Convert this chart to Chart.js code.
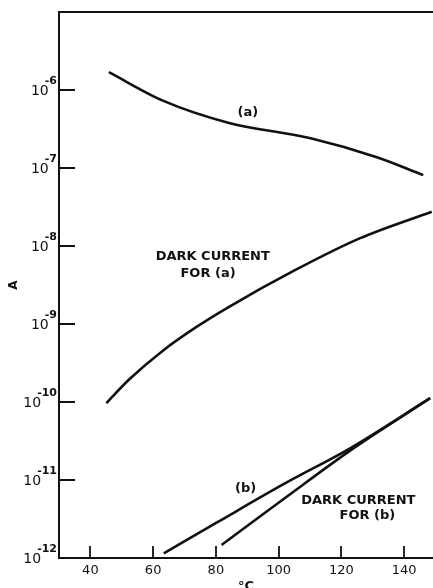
<!DOCTYPE html>
<html>
<head>
<meta charset="utf-8">
<script src="https://cdn.jsdelivr.net/npm/chart.js@4.4.0/dist/chart.umd.min.js"></script>
<style>
  html, body { margin: 0; padding: 0; background: #fff; overflow: hidden; }
  #wrap { width: 433px; height: 594px; }
</style>
</head>
<body>
<div id="wrap"><canvas id="darkChart" width="433" height="594"></canvas></div>
<script>
// curve (a)
const tempA = [45.9, 63.1, 84.2, 110.2, 131.3, 146.1];
const currA = [1.69e-6, 7.3e-7, 3.78e-7, 2.4e-7, 1.37e-7, 8.1e-8];
// dark current for (a)
const tempDarkA = [45.1, 52.5, 63.1, 73.7, 84.2, 104.9, 126.0, 148.8];
const currDarkA = [9.7e-11, 1.97e-10, 4.55e-10, 9.1e-10, 1.66e-9, 4.82e-9, 1.26e-8, 2.75e-8];
// curve (b)
const tempB = [63.4, 80.5, 101.7, 122.9, 148.3];
const currB = [1.15e-12, 2.88e-12, 8.9e-12, 2.57e-11, 1.12e-10];
// dark current for (b)
const tempDarkB = [81.8, 101.7, 122.9, 148.3];
const currDarkB = [1.47e-12, 5.75e-12, 2.4e-11, 1.12e-10];

const xTicks = [40, 60, 80, 100, 120, 140];
const yTicks = [1e-12, 1e-11, 1e-10, 1e-9, 1e-8, 1e-7, 1e-6];
const yTickExp = ['-12', '-11', '-10', '-9', '-8', '-7', '-6'];

// notes written on the plot
const noteText = ['(a)', 'DARK CURRENT', 'FOR (a)', '(b)', 'DARK CURRENT', 'FOR (b)'];
const noteTemp = [90.2, 79, 77.5, 89.5, 125.4, 128.3];
const noteCurr = [5.2e-7, 7.4e-9, 4.4e-9, 7.7e-12, 5.4e-12, 3.5e-12];

const INK = '#111';

function pts(xs, ys) {
    return xs.map(function(x, i) { return {x: x, y: ys[i]}; });
}

function lineSet(data) {
    return {
        data: data,
        borderColor: INK,
        borderWidth: 2.6,
        pointRadius: 0,
        fill: false,
        cubicInterpolationMode: 'monotone'
    };
}

// inward tick marks, power-of-ten labels and the notes
const paperPlugin = {
    id: 'paper',
    afterDatasetsDraw: function(chart) {
        let ctx = chart.ctx;
        let area = chart.chartArea;
        let xs = chart.scales.x;
        let ys = chart.scales.y;
        ctx.save();
        ctx.strokeStyle = INK;
        ctx.lineWidth = 1.8;
        ctx.beginPath();
        yTicks.forEach(function(v) {
            let py = Math.round(ys.getPixelForValue(v));
            ctx.moveTo(area.left, py);
            ctx.lineTo(area.left + 16, py);
        });
        xTicks.forEach(function(v) {
            let px = Math.round(xs.getPixelForValue(v));
            ctx.moveTo(px, area.bottom);
            ctx.lineTo(px, area.bottom - 12);
        });
        ctx.stroke();

        ctx.fillStyle = INK;
        ctx.textBaseline = 'middle';
        ctx.textAlign = 'right';
        yTicks.forEach(function(v, i) {
            let py = ys.getPixelForValue(v);
            let right = area.left - 2;
            ctx.font = 'bold 11px "DejaVu Sans"';
            let w = ctx.measureText(yTickExp[i]).width;
            ctx.fillText(yTickExp[i], right, py - 9);
            ctx.font = '14px "DejaVu Sans"';
            ctx.fillText('10', right - w + 4, py + 1);
        });

        ctx.font = 'bold 13px "DejaVu Sans"';
        ctx.textAlign = 'center';
        noteText.forEach(function(t, i) {
            ctx.fillText(t, xs.getPixelForValue(noteTemp[i]), ys.getPixelForValue(noteCurr[i]));
        });
        ctx.restore();
    }
};

new Chart(document.getElementById('darkChart'), {
    type: 'line',
    data: {
        datasets: [
            lineSet(pts(tempA, currA)),
            lineSet(pts(tempDarkA, currDarkA)),
            lineSet(pts(tempB, currB)),
            lineSet(pts(tempDarkB, currDarkB))
        ]
    },
    options: {
        responsive: false,
        animation: false,
        devicePixelRatio: 1,
        layout: { padding: 0 },
        plugins: {
            legend: { display: false },
            tooltip: { enabled: false }
        },
        scales: {
            x: {
                type: 'linear',
                min: 30,
                max: 149.2,
                afterBuildTicks: function(scale) {
                    scale.ticks = xTicks.map(function(v) { return {value: v}; });
                },
                afterFit: function(scale) { scale.height = 36; },
                grid: { display: false },
                border: { display: true, color: INK, width: 2 },
                ticks: {
                    color: INK,
                    padding: -3,
                    maxRotation: 0,
                    font: { family: 'DejaVu Sans', size: 13 },
                    callback: function(v) { return String(v); }
                },
                title: {
                    display: true,
                    text: '\u00B0C',
                    color: INK,
                    padding: { top: 0, bottom: 0 },
                    font: { family: 'DejaVu Sans', size: 13, weight: 'bold' }
                }
            },
            x2: {
                type: 'linear',
                position: 'top',
                min: 30,
                max: 149.2,
                afterFit: function(scale) { scale.height = 12; },
                grid: { display: false, drawTicks: false },
                border: { display: true, color: INK, width: 2 },
                ticks: { display: false }
            },
            y: {
                type: 'logarithmic',
                min: 1e-12,
                max: 1e-5,
                afterBuildTicks: function(scale) {
                    scale.ticks = yTicks.map(function(v) { return {value: v, major: true}; });
                },
                afterFit: function(scale) { scale.width = 59; },
                grid: { display: false },
                border: { display: true, color: INK, width: 2 },
                ticks: { display: false },
                title: {
                    display: true,
                    text: 'A',
                    color: INK,
                    padding: { top: 7, bottom: 0 },
                    font: { family: 'DejaVu Sans', size: 12, weight: 'bold' }
                }
            }
        }
    },
    plugins: [paperPlugin]
});
</script>
</body>
</html>
